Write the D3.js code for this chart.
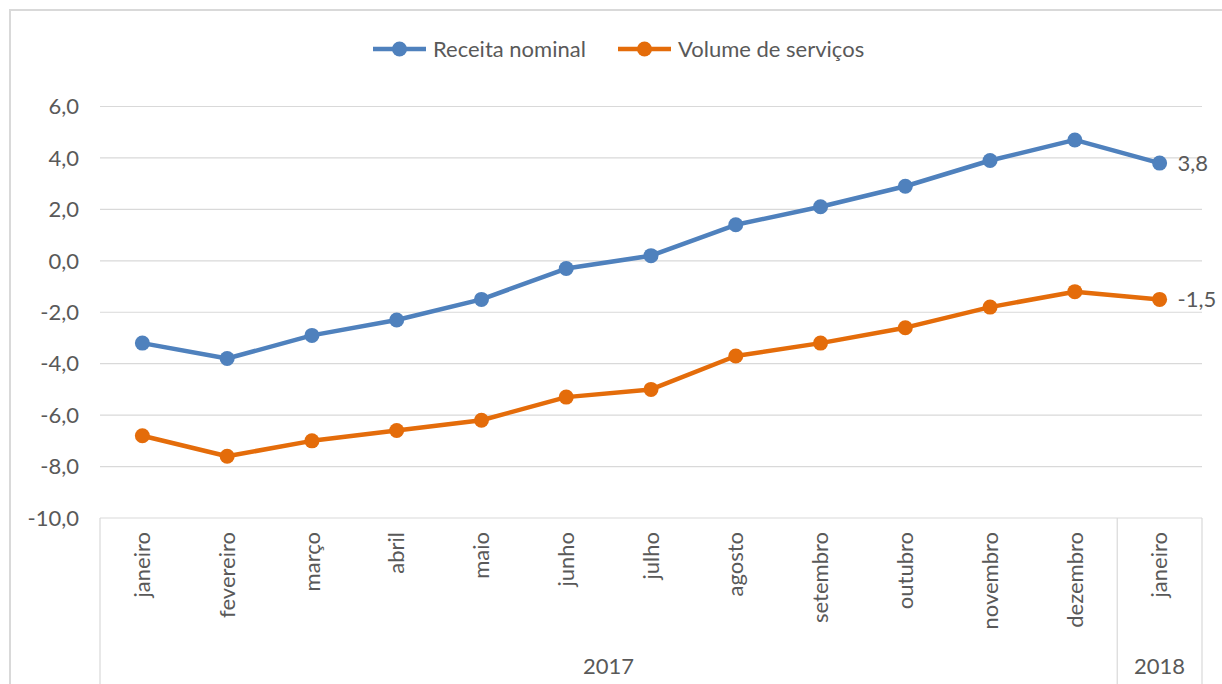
<!DOCTYPE html>
<html>
<head>
<meta charset="utf-8">
<script src="https://cdn.jsdelivr.net/npm/d3@7"></script>
<style>
  body { margin: 0; background: #fff; }
  svg text { font-family: Lato, "Open Sans", sans-serif; fill: #595959; }
</style>
</head>
<body>
<script>
// chart data
const months = ['janeiro', 'fevereiro', 'março', 'abril', 'maio', 'junho', 'julho',
    'agosto', 'setembro', 'outubro', 'novembro', 'dezembro', 'janeiro'];
const years = ['2017', '2017', '2017', '2017', '2017', '2017', '2017',
    '2017', '2017', '2017', '2017', '2017', '2018'];
const receita = [-3.2, -3.8, -2.9, -2.3, -1.5, -0.3, 0.2, 1.4, 2.1, 2.9, 3.9, 4.7, 3.8];
const volume = [-6.8, -7.6, -7.0, -6.6, -6.2, -5.3, -5.0, -3.7, -3.2, -2.6, -1.8, -1.2, -1.5];
const yTicks = [-10, -8, -6, -4, -2, 0, 2, 4, 6];

const series = [
    { name: 'Receita nominal', values: receita, color: '#4f81bd' },
    { name: 'Volume de serviços', values: volume, color: '#e46c0a' }
];

// svg dimensions
const W = 1222, H = 684;
const pLeft = 100, pRight = 1202, pTop = 106.5, pBottom = 518;
const fs = 22;

const fmt = v => d3.format('.1f')(v).replace('.', ',').replace('−', '-');

const svg = d3.select('body').append('svg')
    .attr('width', W)
    .attr('height', H);

// outer border
svg.append('rect')
    .attr('x', 10).attr('y', 10)
    .attr('width', W + 10).attr('height', H + 10)
    .attr('fill', 'none')
    .attr('stroke', '#d9d9d9')
    .attr('stroke-width', 2);

const idx = d3.range(months.length);
const x = d3.scaleBand().domain(idx).range([pLeft, pRight]);
const y = d3.scaleLinear().domain([-10, 6]).range([pBottom, pTop]);
const cx = i => x(i) + x.bandwidth() / 2;

// gridlines
svg.append('g')
    .selectAll('line')
    .data(yTicks)
    .enter()
    .append('line')
    .attr('x1', pLeft).attr('x2', pRight)
    .attr('y1', d => y(d)).attr('y2', d => y(d))
    .attr('stroke', '#d9d9d9')
    .attr('stroke-width', 1.2);

// y tick labels
svg.append('g')
    .selectAll('text')
    .data(yTicks)
    .enter()
    .append('text')
    .attr('x', 79)
    .attr('y', d => y(d))
    .attr('dy', '0.35em')
    .attr('text-anchor', 'end')
    .attr('font-size', fs)
    .text(d => fmt(d));

// category axis separators
const yearGroups = d3.groups(idx, i => years[i]);
const sepX = [pLeft];
yearGroups.forEach(g => sepX.push(x(g[1][g[1].length - 1]) + x.bandwidth()));
svg.append('g')
    .selectAll('line')
    .data(sepX)
    .enter()
    .append('line')
    .attr('x1', d => d).attr('x2', d => d)
    .attr('y1', pBottom).attr('y2', H)
    .attr('stroke', '#d9d9d9')
    .attr('stroke-width', 1.2);

// month labels
svg.append('g')
    .selectAll('text')
    .data(idx)
    .enter()
    .append('text')
    .attr('transform', i => `translate(${cx(i)},532) rotate(-90)`)
    .attr('dy', '0.35em')
    .attr('text-anchor', 'end')
    .attr('font-size', fs)
    .text(i => months[i]);

// year labels
svg.append('g')
    .selectAll('text')
    .data(yearGroups)
    .enter()
    .append('text')
    .attr('x', g => (x(g[1][0]) + x(g[1][g[1].length - 1]) + x.bandwidth()) / 2)
    .attr('y', 666)
    .attr('dy', '0.35em')
    .attr('text-anchor', 'middle')
    .attr('font-size', fs)
    .text(g => g[0]);

// lines and markers
const line = d3.line().x((d, i) => cx(i)).y(d => y(d));
series.forEach(s => {
    svg.append('path')
        .datum(s.values)
        .attr('d', line)
        .attr('fill', 'none')
        .attr('stroke', s.color)
        .attr('stroke-width', 4.5)
        .attr('stroke-linejoin', 'round');
    svg.append('g')
        .selectAll('circle')
        .data(s.values)
        .enter()
        .append('circle')
        .attr('cx', (d, i) => cx(i))
        .attr('cy', d => y(d))
        .attr('r', 7.5)
        .attr('fill', s.color);
    // last value label
    const last = s.values.length - 1;
    svg.append('text')
        .attr('x', cx(last) + 18)
        .attr('y', y(s.values[last]))
        .attr('dy', '0.35em')
        .attr('font-size', fs)
        .text(fmt(s.values[last]));
});

// legend
const legendX = [373, 618];
const leg = svg.append('g')
    .selectAll('g')
    .data(series)
    .enter()
    .append('g')
    .attr('transform', (d, i) => `translate(${legendX[i]},49)`);
leg.append('line')
    .attr('x1', 0).attr('x2', 53)
    .attr('stroke', d => d.color)
    .attr('stroke-width', 4.5);
leg.append('circle')
    .attr('cx', 26.5)
    .attr('r', 7.5)
    .attr('fill', d => d.color);
leg.append('text')
    .attr('x', 60)
    .attr('dy', '0.35em')
    .attr('font-size', fs)
    .text(d => d.name);
</script>
</body>
</html>
